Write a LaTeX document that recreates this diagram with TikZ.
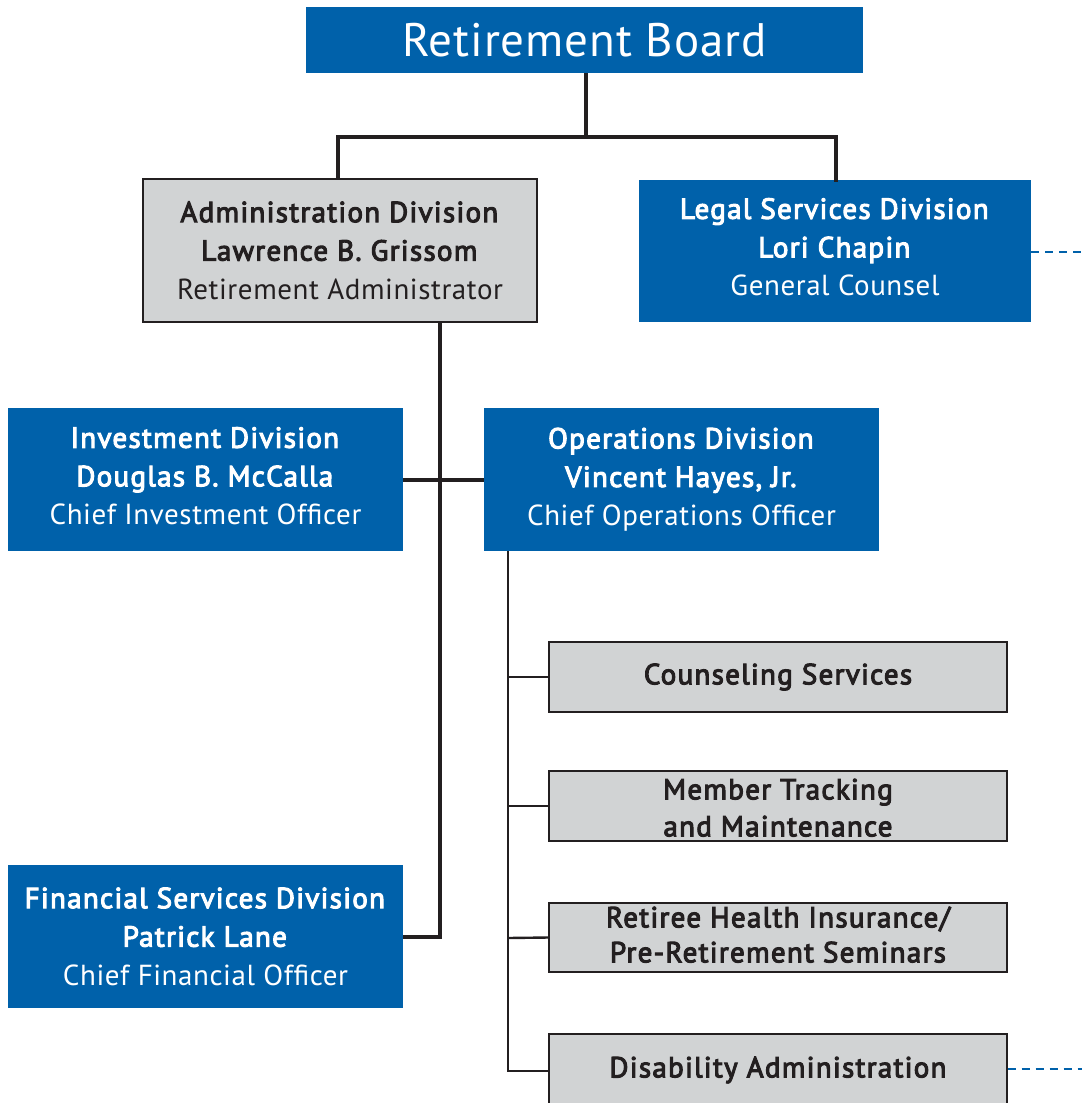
\documentclass[tikz,border=0pt]{standalone}
\usepackage{fontspec}
\setmainfont{PT Sans}[LetterSpace=2,BoldFont={PT Sans},BoldFeatures={FakeBold=3.6,LetterSpace=4.5}]
\definecolor{boardblue}{HTML}{0061AA}
\definecolor{boxgray}{HTML}{D1D3D4}
\definecolor{inkdark}{HTML}{231F20}
\begin{document}
\begin{tikzpicture}[x=1pt,y=-1pt,
  bluebox/.style={fill=boardblue,draw=none,text=white,align=center,inner sep=0pt,
    font=\fontsize{29}{38.5}\selectfont},
  graybox/.style={fill=boxgray,draw=inkdark,line width=1.2pt,text=inkdark,align=center,inner sep=0pt,
    font=\fontsize{29}{37}\selectfont\bfseries},
  thick link/.style={draw=inkdark,line width=4pt},
  thin link/.style={draw=inkdark,line width=2.4pt},
  dash link/.style={draw=boardblue,line width=2pt,dash pattern=on 8pt off 6pt}]
\clip (0,0) rectangle (1082,1103);
\fill[white] (0,0) rectangle (1082,1103);
% boxes
\node[bluebox,minimum width=557pt,minimum height=66pt,font=\fontsize{47}{60}\selectfont] (board) at (584.5,40) {Retirement Board};
\node[graybox,minimum width=394pt,minimum height=143pt,font=\fontsize{29}{38.5}\selectfont] (admin) at (340,250.5)
  {\textbf{Administration Division}\\\textbf{Lawrence B. Grissom}\\\mdseries Retirement Administrator};
\node[bluebox,minimum width=392pt,minimum height=142pt] (legal) at (835,251)
  {\textbf{Legal Services Division}\\\textbf{Lori Chapin}\\General Counsel\rule[-8pt]{0pt}{1pt}};
\node[bluebox,minimum width=395pt,minimum height=143pt] (invest) at (205.5,479.5)
  {\textbf{Investment Division}\\\textbf{Douglas B. McCalla}\\Chief Investment Officer\rule[-7pt]{0pt}{1pt}};
\node[bluebox,minimum width=395pt,minimum height=143pt] (ops) at (681.5,479.5)
  {\textbf{Operations Division}\\\textbf{Vincent Hayes, Jr.}\\Chief Operations Officer};
\node[bluebox,minimum width=395pt,minimum height=143pt] (fin) at (205.5,936.5)
  {\textbf{Financial Services Division}\\\textbf{Patrick Lane}\\Chief Financial Officer};
\node[graybox,minimum width=458pt,minimum height=70pt] (couns) at (778,677) {\raisebox{-3pt}{Counseling Services}};
\node[graybox,minimum width=458pt,minimum height=70pt] (member) at (778,806) {\rule{0pt}{24pt}Member Tracking\\and Maintenance};
\node[graybox,minimum width=458pt,minimum height=69pt,font=\fontsize{29}{35}\selectfont\bfseries] (retiree) at (778,937.5) {Retiree Health Insurance/\\Pre-Retirement Seminars\rule[-6pt]{0pt}{1pt}};
\node[graybox,minimum width=458pt,minimum height=72pt] (disab) at (778,1070) {Disability Administration};
% coordinates
\coordinate (split) at (586,137);
\coordinate (adminbus) at (440,322);
\coordinate (opsbus) at (508,551);
\coordinate (legalout) at (1082,252);
\coordinate (disabout) at (1082,1069);
% connectors
\draw[thick link] (board.south -| split) -- (split);
\draw[thick link,line cap=rect] (split) -| (admin.north -| 338,0);
\draw[thick link,line cap=rect] (split) -| (legal.north -| 836,0);
\draw[thick link] (adminbus) -- (440,937) -- (fin.east |- 0,937);
\draw[thick link] (invest.east |- 0,480) -- (ops.west |- 0,480);
\draw[thin link] (opsbus) -- (508,1071) -- (disab.west |- 0,1071);
\draw[thin link] (508,677) -- (couns.west);
\draw[thin link] (508,806) -- (member.west);
\draw[thin link] (508,938) -- (retiree.west);
\draw[dash link] (legal.east |- legalout) -- (legalout);
\draw[dash link] (disab.east |- disabout) -- (disabout);
\end{tikzpicture}
\end{document}
